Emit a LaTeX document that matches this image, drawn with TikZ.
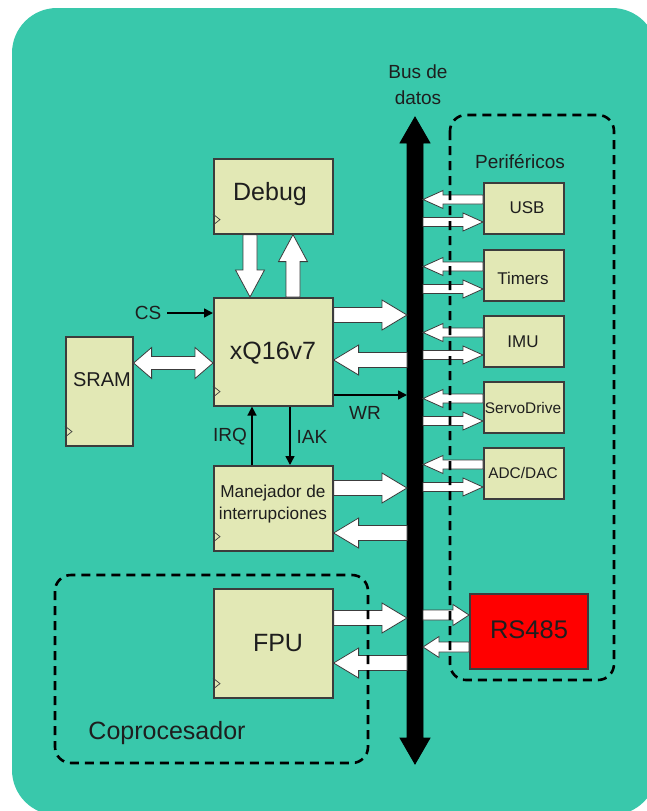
\documentclass[tikz,border=0pt]{standalone}
\usepackage{fontspec}
\setmainfont{Liberation Sans}
\usetikzlibrary{calc,arrows.meta}

\definecolor{bg}{RGB}{57,200,171}
\definecolor{boxfill}{RGB}{226,232,181}
\definecolor{edge}{RGB}{60,60,60}
\definecolor{ink}{RGB}{30,30,30}
\definecolor{rsred}{RGB}{255,0,0}

\newcommand\fs[1]{\fontsize{#1}{#1}\selectfont}

% single-headed block arrow: [style]{from}{to}{shaft half width}{head half width}{head length}
\newcommand\blockarrow[6][]{%
  \coordinate (ba-h) at ($(#3)!#6!(#2)$);
  \filldraw[blockarrow,#1]
    ($(#2)!#4!90:(#3)$) -- ($(ba-h)!#4!90:(#3)$) -- ($(ba-h)!#5!90:(#3)$) -- (#3)
    -- ($(ba-h)!#5!-90:(#3)$) -- ($(ba-h)!#4!-90:(#3)$) -- ($(#2)!#4!-90:(#3)$) -- cycle;
}
% double-headed block arrow, same arguments
\newcommand\dblockarrow[6][]{%
  \coordinate (ba-a) at ($(#2)!#6!(#3)$);
  \coordinate (ba-b) at ($(#3)!#6!(#2)$);
  \filldraw[blockarrow,#1]
    (#2) -- ($(ba-a)!#5!90:(#3)$) -- ($(ba-a)!#4!90:(#3)$) -- ($(ba-b)!#4!90:(#3)$)
    -- ($(ba-b)!#5!90:(#3)$) -- (#3) -- ($(ba-b)!#5!-90:(#3)$) -- ($(ba-b)!#4!-90:(#3)$)
    -- ($(ba-a)!#4!-90:(#3)$) -- ($(ba-a)!#5!-90:(#3)$) -- cycle;
}
% clock input mark on the left edge of a block
\newcommand\clk[1]{%
  \draw[edge,line width=0.7pt] ([yshift=20.5pt]#1.south west) -- ([xshift=7pt,yshift=15pt]#1.south west) -- ([yshift=9.5pt]#1.south west);
}

\begin{document}
\begin{tikzpicture}[x=1pt,y=-1pt,
  box/.style={draw=edge,line width=1.6pt,fill=boxfill,anchor=north west,inner sep=0pt},
  blockarrow/.style={fill=white,draw=edge,line width=0.8pt,line join=miter},
  sig/.style={line width=1.6pt,-{Triangle[length=9pt,width=9pt]}},
  group/.style={draw=black,line width=2.6pt,dash pattern=on 9pt off 6pt,rounded corners=16pt},
  lbl/.style={inner sep=0pt,align=center,text=ink}]

\useasboundingbox (0,0) rectangle (647,811);
\fill[bg,rounded corners=45pt] (12,8) rectangle (657,815);

% bus reference lines
\coordinate (busL) at (407,0);
\coordinate (busR) at (423,0);
\coordinate (bustop) at (415,117);
\coordinate (busbot) at (415,764);

% blocks
\node[box,minimum width=119pt,minimum height=75pt]  (dbg)  at (213,158) {};
\node[box,minimum width=119pt,minimum height=108pt] (xq)   at (213,297) {};
\node[box,minimum width=67pt, minimum height=109pt] (sram) at (65,336) {};
\node[box,minimum width=119pt,minimum height=85pt]  (irqh) at (213,465) {};
\node[box,minimum width=119pt,minimum height=109pt] (fpu)  at (213,588) {};
\foreach \n in {dbg,xq,sram,irqh,fpu} {\clk{\n}}

\node[box,minimum width=80pt,minimum height=51pt] (usb)    at (483,182) {};
\node[box,minimum width=80pt,minimum height=51pt] (timers) at (483,249) {};
\node[box,minimum width=80pt,minimum height=51pt] (imu)    at (483,315) {};
\node[box,minimum width=80pt,minimum height=51pt] (servo)  at (483,381) {};
\node[box,minimum width=80pt,minimum height=51pt] (adc)    at (483,447) {};
\node[box,fill=rsred,minimum width=118pt,minimum height=75pt] (rs) at (469,593) {};

% block texts
\node[lbl,font=\fs{25}] (dbgt)  at (270,194) {Debug};
\node[lbl,font=\fs{25}] (xqt)   at (273,353) {xQ16v7};
\node[lbl,font=\fs{20}] (sramt) at (102,380) {SRAM};
\node[lbl,font=\fontsize{17.2}{22.5}\selectfont] (irqht) at (273,504) {Manejador de\\interrupciones};
\node[lbl,font=\fs{25}] (fput)  at (278,643) {FPU};
\node[lbl,font=\fs{17}] (usbt)  at (527,208) {USB};
\node[lbl,font=\fs{17}] (timt)  at (523,278) {Timers};
\node[lbl,font=\fs{17}] (imut)  at (523,342) {IMU};
\node[lbl,font=\fs{15.4}] (servot) at (523,408) {ServoDrive};
\node[lbl,font=\fs{15.4}] (adct)  at (523,473) {ADC/DAC};
\node[lbl,font=\fs{25.5}] (rst)  at (529,630) {RS485};
\node[lbl,font=\fontsize{19}{26}\selectfont] (bust) at (418,85) {Bus de\\datos};
\node[lbl,font=\fs{19}] (perit) at (520,162) {Periféricos};
\node[lbl,font=\fs{25}] (copt)  at (167,733) {Coprocesador};

% data bus
\dblockarrow[fill=black,draw=black]{bustop}{busbot}{8pt}{15pt}{26pt}

% debug link
\coordinate (d1a) at (dbg.south -| 250,0);  \coordinate (d1b) at (xq.north -| 250,0);
\coordinate (d2a) at (xq.north -| 293,0);   \coordinate (d2b) at (dbg.south -| 293,0);
\blockarrow{d1a}{d1b}{7pt}{14.5pt}{27pt}
\blockarrow{d2a}{d2b}{7pt}{14.5pt}{27pt}

% SRAM <-> CPU
\coordinate (s1) at (sram.east |- 0,363); \coordinate (s2) at (xq.west |- 0,363);
\dblockarrow{s1}{s2}{6.5pt}{15.5pt}{18pt}

% CPU, interrupt handler and FPU to the bus
\foreach \blk/\yo/\yi in {xq/315/360, irqh/488/533, fpu/618/663} {
  \coordinate (o1) at (\blk.east |- 0,\yo); \coordinate (o2) at (busL |- 0,\yo);
  \coordinate (i1) at (busL |- 0,\yi);      \coordinate (i2) at (\blk.east |- 0,\yi);
  \blockarrow{o1}{o2}{7.5pt}{15pt}{25pt}
  \blockarrow{i1}{i2}{7.5pt}{15pt}{25pt}
}

% peripherals to the bus
\foreach \blk in {usb,timers,imu,servo,adc} {
  \coordinate (p1) at ([yshift=-17.5pt]\blk.north west); \coordinate (p2) at (busR |- p1);
  \coordinate (q2) at ([yshift=-40pt]\blk.north west);   \coordinate (q1) at (busR |- q2);
  \blockarrow{p1}{p2}{4.5pt}{9pt}{20pt}
  \blockarrow{q1}{q2}{4.5pt}{9pt}{20pt}
}
\coordinate (r2) at (rs.west |- 0,615); \coordinate (r1) at (busR |- r2);
\coordinate (r3) at (rs.west |- 0,647); \coordinate (r4) at (busR |- r3);
\blockarrow{r1}{r2}{5pt}{10.5pt}{16pt}
\blockarrow{r3}{r4}{5pt}{10.5pt}{16pt}

% control signals
\coordinate (csin) at (167,313);
\node[lbl,font=\fs{19}] (cst) at (148,313) {CS};
\draw[sig] (csin) -- (xq.west |- csin);
\coordinate (wr1) at (xq.east |- 0,395);
\draw[sig] (wr1) -- (busL |- wr1);
\node[lbl,font=\fs{19}] (wrt) at (365,413) {WR};
\draw[sig] (irqh.north -| 252,0) -- (xq.south -| 252,0);
\draw[sig] (xq.south -| 290,0) -- (irqh.north -| 290,0);
\node[lbl,font=\fs{19}] (irqt) at (230,437) {IRQ};
\node[lbl,font=\fs{19}] (iakt) at (312,437) {IAK};

% dashed groups
\draw[group] (450,115) rectangle (614,680);
\draw[group] (55,575) rectangle (368,763);

\end{tikzpicture}
\end{document}
